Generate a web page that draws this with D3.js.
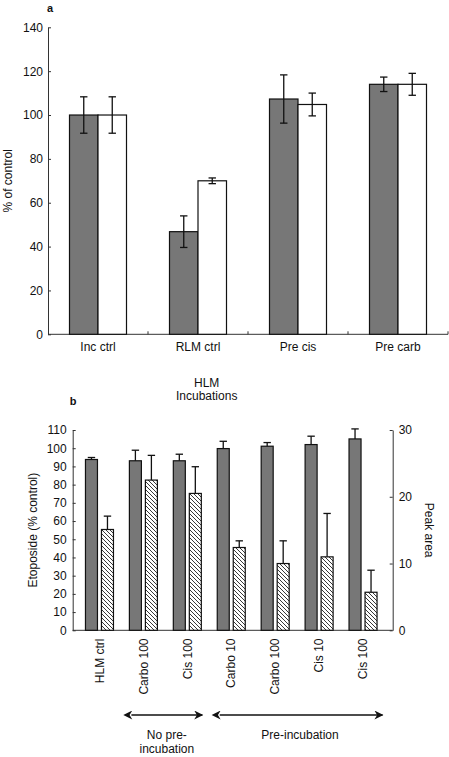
<!DOCTYPE html>
<html><head><meta charset="utf-8">
<script src="https://cdn.jsdelivr.net/npm/d3@7"></script>
<style>
html,body{margin:0;padding:0;background:#fff;}
text{font-family:"Liberation Sans",Arial,sans-serif;fill:#111;}
</style></head>
<body>
<svg id="chart" width="449" height="757"></svg>
<script>
// ---- Panel a data ----
const catsA = ["Inc ctrl", "RLM ctrl", "Pre cis", "Pre carb"];
const grayA = [100, 46.8, 107.3, 114];
const grayErrA = [8.3, 7.2, 11, 3.3];
const whiteA = [100, 70, 104.8, 114];
const whiteErrA = [8.3, 1.3, 5.2, 5];
const ticksA = [0, 20, 40, 60, 80, 100, 120, 140];

// ---- Panel b data ----
const catsB = ["HLM ctrl", "Carbo 100", "Cis 100", "Carbo 10", "Carbo 100", "Cis 10", "Cis 100"];
const etoposide = [93.8, 93.1, 93.1, 99.8, 101.1, 102, 105.1];
const etoposideErr = [1.1, 5.8, 3.6, 4, 2, 4.6, 5.5];
const peakArea = [15.1, 22.5, 20.5, 12.4, 10.0, 11.0, 5.7];
const peakAreaErr = [2, 3.7, 4, 1, 3.4, 6.5, 3.3];
const ticksBLeft = [0, 10, 20, 30, 40, 50, 60, 70, 80, 90, 100, 110];
const ticksBRight = [0, 10, 20, 30];

const svg = d3.select("#chart");
const GRAY = "#777777";
const FS = "12px";

// hatch pattern
const defs = svg.append("defs");
const pat = defs.append("pattern").attr("id", "hatch").attr("patternUnits", "userSpaceOnUse")
  .attr("width", 4).attr("height", 4);
pat.append("rect").attr("width", 4).attr("height", 4).attr("fill", "#fff");
pat.append("path").attr("d", "M-1,-1 L5,5 M3,-1 L5,1 M-1,3 L1,5")
  .attr("stroke", "#222").attr("stroke-width", 0.9);

// arrow markers
["start", "end"].forEach(k => {
  const m = defs.append("marker").attr("id", "arr-" + k)
    .attr("viewBox", "0 0 10 10").attr("refX", k === "end" ? 9 : 1).attr("refY", 5)
    .attr("markerWidth", 11).attr("markerHeight", 9).attr("markerUnits", "userSpaceOnUse")
    .attr("orient", "auto-start-reverse");
  m.append("path").attr("d", "M0,0 L10,5 L0,10 L3,5 Z").attr("fill", "#111");
});

// ================= Panel a =================
const ya = d3.scaleLinear().domain([0, 140]).range([334.3, 27.3]);
const xa = d3.scaleBand().domain(catsA).range([48, 448]);
const bwA = 28.5;

svg.append("g").attr("transform", "translate(48,0)")
  .call(d3.axisLeft(ya).tickValues(ticksA).tickSize(-3).tickPadding(5).tickSizeOuter(0))
  .call(g => {
    g.selectAll("text").style("font-size", FS).attr("font-family", null);
    g.selectAll("line,path").attr("stroke", "#333");
  });

// x axis a
const gxa = svg.append("g");
gxa.append("line").attr("x1", 48).attr("x2", 448).attr("y1", ya(0)).attr("y2", ya(0)).attr("stroke", "#333");
catsA.forEach((c, i) => {
  const xbnd = xa(c) + xa.bandwidth();
  gxa.append("line").attr("x1", xbnd).attr("x2", xbnd).attr("y1", ya(0)).attr("y2", ya(0) - 3).attr("stroke", "#333");
  gxa.append("text").attr("x", xa(c) + xa.bandwidth() / 2).attr("y", 351)
    .attr("text-anchor", "middle").style("font-size", FS).text(c);
});

function errBar(g, x, yTop, yBot, cap, both) {
  g.append("line").attr("x1", x).attr("x2", x).attr("y1", yTop).attr("y2", yBot).attr("stroke", "#111").attr("stroke-width", 1.3);
  g.append("line").attr("x1", x - cap).attr("x2", x + cap).attr("y1", yTop).attr("y2", yTop).attr("stroke", "#111").attr("stroke-width", 1.3);
  if (both) {
    g.append("line").attr("x1", x - cap).attr("x2", x + cap).attr("y1", yBot).attr("y2", yBot).attr("stroke", "#111").attr("stroke-width", 1.3);
  }
}

const barsA = svg.append("g");
catsA.forEach((c, i) => {
  const cx = xa(c) + xa.bandwidth() / 2;
  barsA.append("rect").attr("x", cx - bwA).attr("y", ya(grayA[i])).attr("width", bwA)
    .attr("height", ya(0) - ya(grayA[i])).attr("fill", GRAY).attr("stroke", "#111").attr("stroke-width", 1.2);
  barsA.append("rect").attr("x", cx).attr("y", ya(whiteA[i])).attr("width", bwA)
    .attr("height", ya(0) - ya(whiteA[i])).attr("fill", "#fff").attr("stroke", "#111").attr("stroke-width", 1.2);
});
catsA.forEach((c, i) => {
  const cx = xa(c) + xa.bandwidth() / 2;
  errBar(barsA, cx - bwA / 2, ya(grayA[i] + grayErrA[i]), ya(grayA[i] - grayErrA[i]), 3.7, true);
  errBar(barsA, cx + bwA / 2, ya(whiteA[i] + whiteErrA[i]), ya(whiteA[i] - whiteErrA[i]), 3.7, true);
});

svg.append("text").attr("transform", "translate(8," + ((ya(0) + ya(140)) / 2) + ") rotate(-90)")
  .attr("text-anchor", "middle").attr("dy", "0.35em").style("font-size", FS).text("% of control");
svg.append("text").attr("x", 50).attr("y", 12).attr("text-anchor", "middle")
  .style("font-size", "11px").style("font-weight", "bold").text("a");

// titles
svg.append("text").attr("x", 206.7).attr("y", 386.5).attr("text-anchor", "middle").style("font-size", FS).text("HLM");
svg.append("text").attr("x", 206.7).attr("y", 400).attr("text-anchor", "middle").style("font-size", FS).text("Incubations");

// ================= Panel b =================
const ybL = d3.scaleLinear().domain([0, 110]).range([630.3, 430]);
const ybR = d3.scaleLinear().domain([0, 30]).range([630.3, 430]);
const idxB = catsB.map((d, i) => i);
const xb = d3.scaleBand().domain(idxB).range([77.5, 385]);
const bwB = 12, gapB = 4;

svg.append("g").attr("transform", "translate(72.7,0)")
  .call(d3.axisLeft(ybL).tickValues(ticksBLeft).tickSize(-3).tickPadding(6).tickSizeOuter(0))
  .call(g => {
    g.selectAll("text").style("font-size", FS).attr("font-family", null);
    g.selectAll("line,path").attr("stroke", "#333");
  });
svg.append("g").attr("transform", "translate(392.7,0)")
  .call(d3.axisRight(ybR).tickValues(ticksBRight).tickSize(-3).tickPadding(6).tickSizeOuter(0))
  .call(g => {
    g.selectAll("text").style("font-size", FS).attr("font-family", null);
    g.selectAll("line,path").attr("stroke", "#333");
  });
svg.append("line").attr("x1", 72.7).attr("x2", 392.7).attr("y1", ybL(0)).attr("y2", ybL(0)).attr("stroke", "#333");

const barsB = svg.append("g");
idxB.forEach(i => {
  const cx = xb(i) + xb.bandwidth() / 2;
  barsB.append("rect").attr("x", cx - gapB / 2 - bwB).attr("y", ybL(etoposide[i])).attr("width", bwB)
    .attr("height", ybL(0) - ybL(etoposide[i])).attr("fill", GRAY).attr("stroke", "#111").attr("stroke-width", 1.2);
  barsB.append("rect").attr("x", cx + gapB / 2).attr("y", ybR(peakArea[i])).attr("width", bwB)
    .attr("height", ybR(0) - ybR(peakArea[i])).attr("fill", "url(#hatch)").attr("stroke", "#111").attr("stroke-width", 1.2);
  errBar(barsB, cx - gapB / 2 - bwB / 2, ybL(etoposide[i] + etoposideErr[i]), ybL(etoposide[i]), 3.7, false);
  errBar(barsB, cx + gapB / 2 + bwB / 2, ybR(peakArea[i] + peakAreaErr[i]), ybR(peakArea[i]), 3.7, false);
  // category labels
  svg.append("text").attr("transform", "translate(" + cx + ",638.5) rotate(-90)")
    .attr("text-anchor", "end").attr("dy", "0.35em").style("font-size", FS).text(catsB[i]);
});

svg.append("text").attr("transform", "translate(33," + ((ybL(0) + ybL(110)) / 2) + ") rotate(-90)")
  .attr("text-anchor", "middle").attr("dy", "0.35em").style("font-size", FS).text("Etoposide (% control)");
svg.append("text").attr("transform", "translate(429," + ((ybL(0) + ybL(110)) / 2) + ") rotate(90)")
  .attr("text-anchor", "middle").attr("dy", "0.35em").style("font-size", FS).text("Peak area");
svg.append("text").attr("x", 73).attr("y", 405).attr("text-anchor", "middle")
  .style("font-size", "11px").style("font-weight", "bold").text("b");

// arrows
const cB = i => xb(i) + xb.bandwidth() / 2;
function arrow(x1, x2, y) {
  svg.append("line").attr("x1", x1).attr("x2", x2).attr("y1", y).attr("y2", y)
    .attr("stroke", "#111").attr("stroke-width", 1.5)
    .attr("marker-start", "url(#arr-start)").attr("marker-end", "url(#arr-end)");
}
arrow(cB(1) - 12, cB(2) + 15, 715);
arrow(cB(3) - 11.5, cB(6) + 19.5, 715);
svg.append("text").attr("x", (cB(1) + cB(2)) / 2 + 1.5).attr("y", 739).attr("text-anchor", "middle").style("font-size", FS).text("No pre-");
svg.append("text").attr("x", (cB(1) + cB(2)) / 2 + 1.5).attr("y", 752.5).attr("text-anchor", "middle").style("font-size", FS).text("incubation");
svg.append("text").attr("x", 300).attr("y", 739).attr("text-anchor", "middle").style("font-size", FS).text("Pre-incubation");
</script>
</body></html>
